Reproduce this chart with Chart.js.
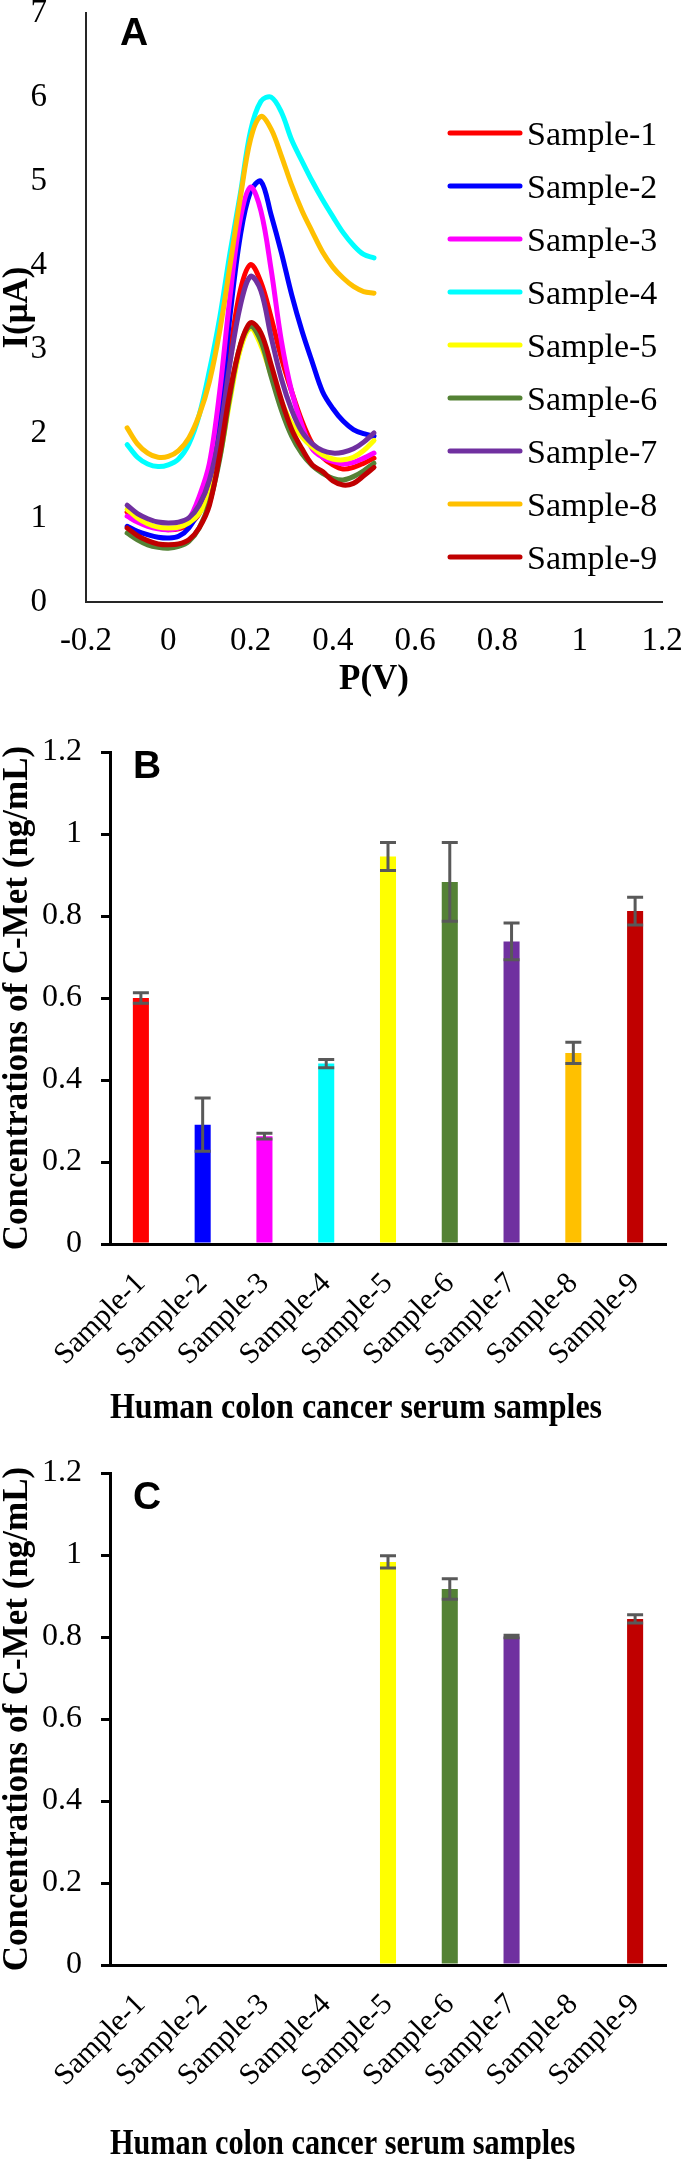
<!DOCTYPE html>
<html>
<head>
<meta charset="utf-8">
<script src="https://cdn.jsdelivr.net/npm/chart.js@4.4.0/dist/chart.umd.min.js"></script>
<style>
  body { margin: 0; background: #fff; }
  canvas { display: block; }
</style>
</head>
<body>
<canvas id="chartA" width="685" height="700"></canvas>
<canvas id="chartB" width="685" height="740"></canvas>
<canvas id="chartC" width="685" height="719"></canvas>
<script>
// Potential steps of the DPV scans (V)
const potentials = [-0.1, -0.075, -0.05, -0.025, 0, 0.025, 0.05, 0.075, 0.1, 0.125, 0.15, 0.175,
  0.2, 0.225, 0.25, 0.275, 0.3, 0.325, 0.35, 0.375, 0.4, 0.425, 0.45, 0.475, 0.5];

// Currents (uA)
const sample1 = [1.07, 0.98, 0.92, 0.88, 0.86, 0.87, 0.92, 1.05, 1.35, 1.92, 2.95, 3.70,
  4.01, 3.80, 3.38, 2.90, 2.50, 2.15, 1.88, 1.72, 1.63, 1.58, 1.60, 1.65, 1.71];
const sample2 = [0.90, 0.84, 0.80, 0.77, 0.76, 0.78, 0.88, 1.10, 1.55, 2.25, 3.40, 4.35,
  4.88, 5.00, 4.60, 4.15, 3.65, 3.22, 2.85, 2.50, 2.30, 2.15, 2.05, 2.00, 1.97];
const sample3 = [1.02, 0.95, 0.90, 0.87, 0.86, 0.88, 0.98, 1.25, 1.65, 2.50, 3.63, 4.55,
  4.93, 4.65, 3.95, 3.10, 2.50, 2.10, 1.82, 1.72, 1.67, 1.64, 1.66, 1.71, 1.77];
const sample4 = [1.87, 1.72, 1.64, 1.61, 1.63, 1.70, 1.88, 2.22, 2.75, 3.38, 4.15, 4.85,
  5.60, 5.95, 6.00, 5.82, 5.49, 5.24, 5.00, 4.78, 4.58, 4.39, 4.24, 4.13, 4.09];
const sample5 = [1.10, 1.00, 0.93, 0.89, 0.88, 0.89, 0.94, 1.05, 1.28, 1.72, 2.40, 3.00,
  3.25, 3.05, 2.70, 2.38, 2.12, 1.96, 1.84, 1.75, 1.70, 1.69, 1.72, 1.80, 1.92];
const sample6 = [0.82, 0.74, 0.68, 0.65, 0.64, 0.66, 0.72, 0.88, 1.18, 1.70, 2.45, 3.05,
  3.28, 3.10, 2.68, 2.28, 1.97, 1.76, 1.62, 1.53, 1.47, 1.45, 1.49, 1.56, 1.65];
const sample7 = [1.15, 1.05, 0.99, 0.95, 0.94, 0.95, 1.00, 1.15, 1.45, 2.00, 2.84, 3.52,
  3.87, 3.70, 3.15, 2.65, 2.28, 2.02, 1.88, 1.80, 1.77, 1.78, 1.82, 1.90, 2.01];
const sample8 = [2.07, 1.88, 1.77, 1.72, 1.73, 1.80, 1.95, 2.22, 2.62, 3.22, 4.00, 4.80,
  5.50, 5.77, 5.62, 5.30, 4.95, 4.65, 4.40, 4.16, 3.98, 3.85, 3.75, 3.69, 3.67];
const sample9 = [0.88, 0.79, 0.73, 0.69, 0.68, 0.69, 0.74, 0.88, 1.15, 1.75, 2.50, 3.05,
  3.32, 3.20, 2.82, 2.40, 2.05, 1.82, 1.63, 1.55, 1.44, 1.39, 1.41, 1.50, 1.60];

const sampleNames = ['Sample-1', 'Sample-2', 'Sample-3', 'Sample-4', 'Sample-5',
  'Sample-6', 'Sample-7', 'Sample-8', 'Sample-9'];
const sampleColors = ['#FF0000', '#0000FF', '#FF00FF', '#00FFFF', '#FFFF00',
  '#548235', '#7030A0', '#FFC000', '#C00000'];

// C-Met concentrations (ng/mL) and their error bars
const concB = [0.60, 0.291, 0.263, 0.44, 0.945, 0.883, 0.738, 0.466, 0.812];
const errB = [0.013, 0.065, 0.007, 0.01, 0.034, 0.096, 0.045, 0.026, 0.034];
const concC = [0, 0, 0, 0, 0.983, 0.917, 0.801, 0, 0.844];
const errC = [0, 0, 0, 0, 0.015, 0.025, 0.003, 0, 0.01];

const serif = '"Liberation Serif", "Times New Roman", serif';
Chart.defaults.color = '#000';
Chart.defaults.font.family = serif;

// tick labels like Excel: 0, 0.2, 1, 1.2 (no "-0.0" or "1.0")
const tickText = v => String(Math.round(v * 10) / 10);

// Big bold panel letter in the corner of the plot area
const panelLetter = {
  id: 'panelLetter',
  afterDraw(chart, args, opts) {
    const { ctx, chartArea } = chart;
    ctx.save();
    ctx.font = 'bold 39px "Liberation Sans", Arial, sans-serif';
    ctx.fillStyle = '#000';
    ctx.textBaseline = 'alphabetic';
    ctx.fillText(opts.text, chartArea.left + opts.dx, chartArea.top + opts.dy);
    ctx.restore();
  }
};

// Legend drawn inside the plot area (Excel style)
const sideLegend = {
  id: 'sideLegend',
  afterDraw(chart, args, opts) {
    if (!opts.show) return;
    const { ctx } = chart;
    ctx.save();
    ctx.font = '34px ' + serif;
    ctx.textBaseline = 'alphabetic';
    ctx.lineCap = 'round';
    ctx.lineWidth = 5;
    chart.data.datasets.forEach((ds, i) => {
      const y = opts.top + i * opts.rowGap;
      ctx.strokeStyle = ds.borderColor;
      ctx.beginPath();
      ctx.moveTo(opts.left, y);
      ctx.lineTo(opts.left + opts.lineLength, y);
      ctx.stroke();
      ctx.fillStyle = '#000';
      ctx.fillText(ds.label, opts.left + opts.lineLength + opts.gap, y + 12);
    });
    ctx.restore();
  }
};

// Error bars on top of the bars
const errorBars = {
  id: 'errorBars',
  afterDatasetsDraw(chart, args, opts) {
    if (!opts.errors) return;
    const { ctx, scales: { y } } = chart;
    const meta = chart.getDatasetMeta(0);
    const values = chart.data.datasets[0].data;
    const half = opts.capWidth / 2;
    ctx.save();
    ctx.strokeStyle = '#595959';
    ctx.lineWidth = 3;
    meta.data.forEach((bar, i) => {
      const err = opts.errors[i];
      if (!err) return;
      const top = y.getPixelForValue(values[i] + err);
      const bottom = y.getPixelForValue(values[i] - err);
      ctx.beginPath();
      ctx.moveTo(bar.x, top);
      ctx.lineTo(bar.x, bottom);
      ctx.moveTo(bar.x - half, top);
      ctx.lineTo(bar.x + half, top);
      ctx.moveTo(bar.x - half, bottom);
      ctx.lineTo(bar.x + half, bottom);
      ctx.stroke();
    });
    ctx.restore();
  }
};

Chart.register(panelLetter, sideLegend, errorBars);

// Panel A: DPV curves
const seriesA = [sample1, sample2, sample3, sample4, sample5, sample6, sample7, sample8, sample9];

new Chart(document.getElementById('chartA'), {
  type: 'line',
  data: {
    datasets: seriesA.map((vals, i) => ({
      label: sampleNames[i],
      data: vals.map((v, j) => ({ x: potentials[j], y: v })),
      borderColor: sampleColors[i],
      borderWidth: 5,
      pointRadius: 0,
      tension: 0.35,
      borderCapStyle: 'round',
      borderJoinStyle: 'round',
      order: seriesA.length - i // later samples drawn on top, like Excel
    }))
  },
  options: {
    responsive: false,
    animation: false,
    layout: { padding: { top: 13, right: 23, left: 0, bottom: 0 } },
    plugins: {
      legend: { display: false },
      tooltip: { enabled: false },
      panelLetter: { text: 'A', dx: 34, dy: 32 },
      sideLegend: { show: true, left: 450, top: 133, rowGap: 53, lineLength: 70, gap: 7 }
    },
    scales: {
      x: {
        type: 'linear',
        min: -0.2,
        max: 1.2,
        ticks: { stepSize: 0.2, padding: 15, callback: tickText, font: { family: serif, size: 33, lineHeight: 1 } },
        grid: { display: false },
        border: { display: true, color: '#262626', width: 2 },
        title: {
          display: true, text: 'P(V)',
          font: { family: serif, size: 35, weight: 'bold', lineHeight: 1 },
          padding: { top: 0, bottom: 3 }
        },
        afterFit: s => { s.height = 98; s.paddingLeft = 0; s.paddingRight = 0; }
      },
      y: {
        min: 0,
        max: 7,
        ticks: { stepSize: 1, padding: 31, callback: tickText, font: { family: serif, size: 33, lineHeight: 1 } },
        grid: { display: false },
        border: { display: true, color: '#262626', width: 2 },
        title: {
          display: true, text: 'I(μA)',
          font: { family: serif, size: 35, weight: 'bold', lineHeight: 1 },
          padding: { top: 0, bottom: 0 }
        },
        afterFit: s => { s.width = 86; s.paddingTop = 0; s.paddingBottom = 0; }
      }
    }
  }
});

// Panels B and C share the same bar layout
const makeBarChart = (canvasId, values, errors, cfg) => {
  return new Chart(document.getElementById(canvasId), {
    type: 'bar',
    data: {
      labels: sampleNames,
      datasets: [{
        data: values,
        backgroundColor: sampleColors,
        borderWidth: 0,
        barPercentage: 0.26,
        categoryPercentage: 1.0
      }]
    },
    options: {
      responsive: false,
      animation: false,
      layout: { padding: { top: cfg.top, right: 19, left: 0, bottom: 0 } },
      plugins: {
        legend: { display: false },
        tooltip: { enabled: false },
        panelLetter: { text: cfg.letter, dx: 23, dy: cfg.letterDy },
        errorBars: { errors: errors, capWidth: 16 }
      },
      scales: {
        x: {
          ticks: { minRotation: 45, maxRotation: 45, autoSkip: false, padding: 14, font: { family: serif, size: 30 } },
          grid: { display: false },
          border: { display: true, color: '#000', width: 3 },
          title: {
            display: true, text: cfg.xTitle,
            font: { family: serif, size: 35, weight: 'bold', lineHeight: cfg.titleLine },
            padding: { top: 0, bottom: cfg.titlePad }
          },
          afterFit: s => { s.height = cfg.xHeight; s.paddingLeft = 0; s.paddingRight = 0; }
        },
        y: {
          min: 0,
          max: 1.2,
          ticks: { stepSize: 0.2, padding: 19, callback: tickText, font: { family: serif, size: 32, lineHeight: 1 } },
          grid: { display: true, drawOnChartArea: false, drawTicks: true, tickLength: 9, color: '#000', lineWidth: 3 },
          border: { display: true, color: '#000', width: 3 },
          title: {
            display: true, text: 'Concentrations of C-Met (ng/mL)',
            font: { family: serif, size: 35, weight: 'bold', lineHeight: 1 },
            padding: { top: 0, bottom: 0 }
          },
          afterFit: s => { s.width = 110; s.paddingTop = 0; s.paddingBottom = 0; }
        }
      }
    }
  });
};

// trailing spaces nudge the centred axis title left, as in the figure
makeBarChart('chartB', concB, errB, {
  letter: 'B', letterDy: 26, top: 52, xHeight: 196, titleLine: 1, titlePad: 13.5,
  xTitle: 'Human colon cancer serum samples        '
});
makeBarChart('chartC', concC, errC, {
  letter: 'C', letterDy: 36, top: 33, xHeight: 194, titleLine: 0.8, titlePad: 0,
  xTitle: 'Human colon cancer serum samples            '
});
</script>
</body>
</html>
